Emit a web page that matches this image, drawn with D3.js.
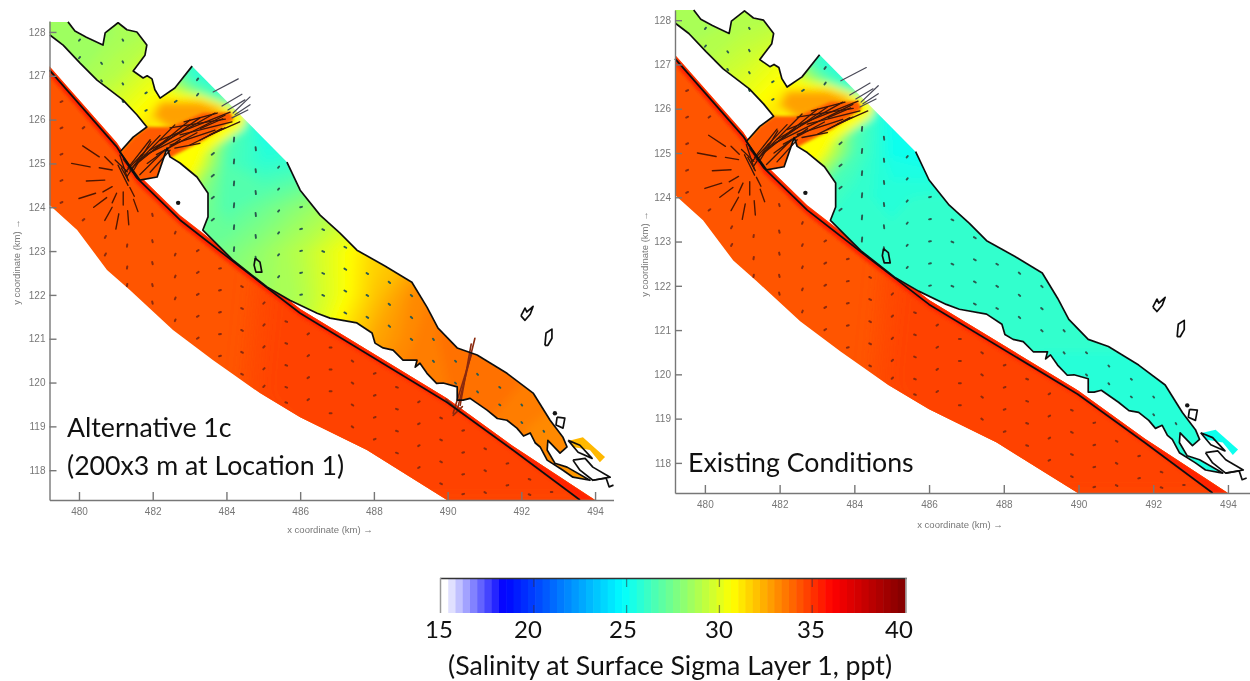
<!DOCTYPE html>
<html>
<head>
  <meta charset="utf-8">
  <title>Salinity at Surface Sigma Layer 1</title>
  <style>
    html, body { margin: 0; padding: 0; background: #fff; }
    svg { display: block; }
    .axis path, .axis line { stroke: #777; stroke-width: 1.4; }
    .axis text { font-family: "Liberation Sans", sans-serif; font-size: 10px; fill: #777; }
    .axis-label { font-family: "Liberation Sans", sans-serif; font-size: 9.5px; fill: #777; }
    .note { font-family: Lato, sans-serif; font-size: 26.7px; fill: #111; }
    .digit { font-family: Lato, sans-serif; font-size: 24px; fill: #111; }
    .coast { fill: none; stroke: #111; stroke-width: 1.7; stroke-linejoin: round; }
  </style>
</head>
<body>
<svg id="chart" width="1250" height="681"></svg>
<script src="https://d3js.org/d3.v7.min.js"></script>
<script>
// axis ticks, km
const xTicks = [480, 482, 484, 486, 488, 490, 492, 494];
const yTicks = [118, 119, 120, 121, 122, 123, 124, 125, 126, 127, 128];

// colour bar
const salinityStops = [15, 18.2, 24.6, 30.5, 35.9, 40];
const salinityColors = ["#ffffff", "#0000ff", "#00ffff", "#ffff00", "#ff0000", "#7a0000"];
const barTicks = [15, 20, 25, 30, 35, 40];

// ocean side, all [x km, y km]
const oceanUpperEdge = [[479.2,127.22],[481.03,125.47],[481.57,124.78],[482.74,123.82],[484.37,122.75],[486,121.68],[489.98,119.64],[491.77,118.55],[494,117.32]];
const oceanLowerEdge = [[479.2,124.05],[479.95,123.48],[480.76,122.57],[481.38,122.11],[482.55,121.2],[483.64,120.51],[484.91,119.76],[486,119.21],[487.81,118.46],[489.98,117.32]];
const barrierCoast = [[479.2,127.13],[481.03,125.37],[481.57,124.67],[482.74,123.71],[484.37,122.64],[486,121.58],[489.98,119.55],[491.77,118.46],[493.59,117.32]];
const redStripInner = [[479.2,127.0],[481.03,125.25],[481.57,124.55],[482.74,123.6],[484.37,122.52],[486,121.5],[489.98,119.5],[491.77,118.42],[493.59,117.32]];
const oceanEastPatch = [[485,123],[495,118],[495,117],[488,117],[484.6,119.5]];
const oceanSalinity = 34.1;
const oceanEastSalinity = 34.5;
const redStripSalinity = 35.2;

// bay shoreline
const upperArmCoast = [[479.7,128.23],[479.89,128.02],[480.2,127.88],[480.65,127.7],[480.71,127.98],[481.06,128.21],[481.3,128.05],[481.57,128],[481.84,127.7],[481.79,127.47],[481.47,127.11],[481.74,126.95],[481.85,127],[481.98,126.93],[482.06,126.68],[482.2,126.49],[482.6,126.72],[483.07,127.22]];
const mainBayCoast = [[485.64,125.03],[486,124.39],[486.54,123.82],[487.08,123.41],[487.54,123.02],[488.3,122.66],[489.03,122.29],[489.44,121.72],[489.74,121.24],[490.26,120.79],[490.8,120.63],[491.61,120.21],[492.32,119.76],[492.78,119.14],[493.13,118.75],[493.24,118.53],[493.05,118.39],[492.72,118.68],[492.7,118.46],[492.91,118.16],[493.24,118.07],[493.86,117.77],[493.4,117.84],[493.13,118],[492.7,118.23],[492.51,118.53],[492.38,118.62],[492.24,118.85],[492.06,118.78],[491.88,118.96],[491.61,119.14],[491.35,119.18],[491.07,119.37],[490.61,119.64],[490.42,119.6],[490.26,119.6],[490.26,119.9],[489.88,119.99],[489.7,119.98],[489.44,120.21],[489.25,120.44],[489.12,120.35],[489.17,120.51],[488.79,120.51],[488.52,120.74],[488.25,120.79],[488.03,120.9],[487.95,121.13],[487.54,121.36],[486.81,121.47],[486.46,121.58],[485.72,121.88],[485.1,122.18],[484.18,122.79],[483.36,123.48],[483.5,123.78],[483.5,124.32],[483.2,124.69],[482.74,125.01],[482.47,125.15],[482.39,125.35],[482.12,124.69],[481.65,124.62],[481.11,125.26],[481.47,125.6],[481.84,125.83],[481.57,126.11],[481.19,126.45],[480.49,126.9],[480.03,127.29],[479.57,127.7],[479.21,127.93]];

// islands and bits at the bay's far end
const outlineShapes = [
  [[491.99,121.52],[492.1,121.7],[492.15,121.61],[492.32,121.74],[492.24,121.56],[492.1,121.42],[491.99,121.52]],
  [[492.64,120.85],[492.67,121.13],[492.83,121.22],[492.83,121.01],[492.72,120.85],[492.64,120.85]],
  [[484.78,122.84],[484.91,122.75],[484.96,122.52],[484.8,122.52],[484.75,122.68],[484.78,122.84]],
  [[492.97,119.21],[493.18,119.19],[493.13,118.96],[492.94,119.03],[492.97,119.21]],
  [[493.27,118.68],[493.59,118.57],[493.92,118.27],[493.54,118.41],[493.27,118.68]],
  [[493.4,118.23],[493.73,118.27],[493.94,118.07],[494.41,117.84],[493.94,117.77],[493.59,118],[493.4,118.23]],
  [[493.94,117.77],[494.3,117.82],[494.38,117.62],[494.5,117.66]]
];
const islandDots = [[482.69,124.1],[492.91,119.3]];
const tipStrip = [[493.32,118.68],[493.67,118.75],[494.27,118.3],[494.13,118.18],[493.86,118.46],[493.4,118.53]];

// salinity at 1 km nodes, x 479..495 across, y 129..117 down
const gridCols = 17, gridRows = 13;
const bayGridLeft = [
  [28.5,28.5,28.5,28.5,28.5,25.5,25,25,25,25,25,25,25,25,25,25,25],
  [28.3,28.3,28.5,28.8,27,25,25,25,25,25,25,25,25,25,25,25,25],
  [28.4,28.5,29,30,26,25,25,25,25,25,25,25,25,25,25,25,25],
  [28.8,29.4,30.2,31.2,32,27.5,25,25,25.5,26,27,28,28,28,28,28,28],
  [30,31,32,33,31.5,26.5,25.8,26,26.5,27,28,29,29,29,29,29,29],
  [33,33,33,31,28,26.6,27.2,28,28.8,29.5,30,31,31,31,31,31,31],
  [27,27,27,27,27.2,27.5,28.2,29,30.2,31.5,32,33,33,33,33,33,33],
  [27,27,27,27,27.5,28,28.4,28.8,30.2,31.8,33,33.5,33.5,33.5,33.5,33.5,33.5],
  [27,27,27,27,27.5,28,28.5,29,31,32.5,33.2,33.6,33.6,33.6,33.6,33.6,33.6],
  [27,27,27,27,28,28.5,29,30,32,33,33.4,33.5,33.7,33.5,33.5,33.5,33.5],
  [28,28,28,28,28,29,30,31,33,33,33.4,33.5,33.5,33.3,33,33,33],
  [28,28,28,28,28,29,30,31,33,33,33.4,33.5,33.5,33.2,33,32.5,32],
  [28,28,28,28,28,29,30,31,33,33,33.4,33.5,33.5,33.2,33,32.5,32]
];
const bayGridRight = [
  [29,29,29,29,29,25.5,25,25,25,25,25,25,25,25,25,25,25],
  [28.6,28.6,28.8,29,27,25,25,25,25,25,25,25,25,25,25,25,25],
  [28.8,29,29.5,30.3,26,25,25,25,25,25,25,25,25,25,25,25,25],
  [29.2,29.8,30.4,31.2,32,27,25,25,25,25.2,25.2,25.2,25.2,25.2,25.2,25.2,25.2],
  [30,31,32,33,31,26.5,25.2,25,25.4,25.6,25.6,25.6,25.6,25.6,25.6,25.6,25.6],
  [33,33,33,30,26.5,25.8,25.7,25.8,25.8,25.8,25.8,25.8,25.8,25.8,25.8,25.8,25.8],
  [25.8,25.8,25.8,25.8,25.8,25.8,25.8,25.8,25.8,25.8,25.8,25.8,25.8,25.8,25.8,25.8,25.8],
  [25.8,25.8,25.8,25.8,25.8,25.8,25.8,25.8,25.8,25.8,25.8,25.8,25.8,25.8,25.8,25.8,25.8],
  [25.8,25.8,25.8,25.8,25.8,25.8,25.8,25.8,25.8,25.8,25.8,25.8,25.8,25.8,25.8,25.8,25.8],
  [25.8,25.8,25.8,25.8,25.8,25.8,25.8,25.8,25.8,25.8,25.7,25.7,25.7,25.7,25.7,25.7,25.7],
  [25.8,25.8,25.8,25.8,25.8,25.8,25.8,25.8,25.8,25.8,25.7,25.7,25.7,25.6,25.6,25.6,25.6],
  [25.8,25.8,25.8,25.8,25.8,25.8,25.8,25.8,25.8,25.8,25.7,25.7,25.7,25.5,25.5,25.2,25],
  [25.8,25.8,25.8,25.8,25.8,25.8,25.8,25.8,25.8,25.8,25.7,25.7,25.7,25.5,25.5,25.2,25]
];
const tipSalinityLeft = 32, tipSalinityRight = 25;

// plume through the cut
const plumeHalo = [[481.93,125.88],[482.33,126.63],[483.28,126.56],[484.58,126.17],[484.45,125.81],[483.42,125.26],[483.01,124.8],[482.52,124.96],[482.33,125.35]];
const plumeMid = [[481.98,126.05],[482.2,126.42],[483.28,126.42],[484,126.22],[483.4,125.95],[482.5,125.75]];
const plumeCore = [[481.11,125.26],[481.47,125.6],[481.84,125.83],[482.47,125.83],[483.36,126.15],[484.1,126.17],[484.2,126.0],[483.42,125.55],[482.52,125.15],[482.12,124.6],[481.65,124.5],[481.06,124.67]];
const plumeHaloSalinity = 30.5, plumeMidSalinity = 32.5, plumeCoreSalinity = 34;

// long velocity arrows [x, y, u, v] km
const plumeArrows = [[481.25,124.8,.95,.84],[481.38,124.85,1.22,1.03],[481.33,124.9,.6,.64],[481.52,124.96,1.49,1.03],[481.65,125.08,1.63,.96],[481.93,125.31,1.76,.84],[481.79,125.19,2.17,.91],[482.2,125.53,1.9,.64],[482.47,125.81,1.5,.2],[482.74,125.65,1.41,.3],[482.47,125.42,1.22,.34],[483.01,125.42,.95,.39],[481.65,124.74,.68,.57],[481.93,124.8,.54,.5],[481.06,124.96,.27,-.46],[481.11,125.19,.22,-.57],[480.98,125.08,.33,-.27],[483.28,125.53,.6,.27],[483.55,125.65,.81,.3],[482.6,125.35,.68,.11],[481.2,125.1,.35,-.4],[481.3,124.7,.4,.5],[481.45,124.8,.5,.7],[481.15,124.9,.2,-.3],[481.85,125.0,.9,.55],[482.1,125.2,1.1,.5],[482.85,125.95,.9,.2],[483.3,125.8,.6,.22]];
const tipArrows = [[483.64,126.63,.68,.3],[484.18,126.15,.46,.37],[484.23,126.11,.41,.23],[484.15,126.04,.43,.18],[484.04,126.22,.46,.23],[483.88,126.31,.54,.27]];
const inletArrows = [[479.8,125,.5,-.08],[480.1,125.4,.45,-.25],[480.2,124.6,.5,.02],[480,124.2,.45,.12],[480.4,124,.35,.22],[480.7,123.7,.2,.3],[481,123.5,.08,.35],[481.35,123.6,-.03,.32],[481.6,123.9,-.12,.28],[480.55,124.9,.35,-.05],[480.7,125.15,.22,-.18],[480.65,124.35,.25,.12],[480.9,124.1,.12,.22],[481.2,124.05,0,.3],[481.5,124.25,-.12,.2]];
const breachArrows = [[490.26,119.37,.48,1.64],[490.34,119.48,.3,1.4],[490.15,119.3,.5,1.35],[489.95,119.62,.4,-.3],[490.4,119.45,-.25,-.2]];

// short drift marks, columns of [x, u, v, [y...]]
const oceanCols = [
  [479.5,.1,.04,[126.4,125.8,125.2,124.6,124.1]],[480.1,.09,.06,[125.8,123.7]],[480.7,.06,.09,[123.3,122.9]],[481.3,.02,.1,[123.1,122.6,122.2]],
  [482,-.03,.1,[123.8,123.2,122.7,122.2,121.8]],[482.6,.04,.08,[123.4,122.9,122.4,121.9,121.4]],[483.2,.09,.05,[123,122.5,122,121.5,121]],
  [483.8,.1,.02,[122.6,122.1,121.6,121.1,120.6]],[484.4,.09,-.04,[122.2,121.7,121.2,120.7,120.2]],[485,.07,.06,[121.8,121.3,120.8,120.3,119.9]],
  [485.6,.09,-.03,[121.4,120.9,120.4,119.9,119.55]],[486.2,.08,.05,[121.1,120.6,120.1,119.6]],[486.8,.1,0,[120.8,120.3,119.8,119.3]],
  [487.4,.08,-.05,[120.5,120,119.5,119]],[488,.09,.03,[120.2,119.7,119.2,118.7]],[488.6,.1,-.03,[119.9,119.4,118.9,118.4]],
  [489.2,.08,.04,[119.55,119.05,118.55,118.05]],[489.8,.09,-.04,[119.2,118.7,118.2,117.7]],[490.4,.09,.02,[118.9,118.4,117.9,117.45]],
  [491,.08,-.04,[118.5,118,117.5]],[491.6,.09,.02,[118.15,117.65]],[492.2,.09,-.03,[117.8,117.45]],[492.8,.08,0,[117.5]]
];
const bayCols = [
  [480,.06,.06,[127.8,127.4]],[480.6,.05,-.06,[127.3,126.9]],[481.2,-.04,.06,[127.8,127.3,126.8,126.4]],[481.8,.08,.04,[126.6,126.2]],
  [482.6,.1,.06,[126.4]],[483.2,.07,.08,[126.9,126.55]],[483.6,.12,.08,[125.2,124.7,124.2,123.7]],
  [484.2,.02,.18,[125.5,125,124.5,124,123.5,123]],[484.8,-.02,.14,[125.3,124.8,124.3,123.8,123.3,122.8]],[485.4,.06,.06,[124.9,124.4,123.9,123.4,122.9,122.4]],
  [486,.1,.02,[124,123.5,123,122.5,122]],[486.6,.1,-.04,[123.5,123,122.5,122]],[487.2,.1,-.05,[123.1,122.6,122.1,121.6]],
  [487.8,.09,-.05,[122.5,122,121.5]],[488.4,.08,-.06,[122.3,121.8,121.3]],[489,.08,-.06,[122,121.5,121]],[489.6,.06,-.06,[121,120.5]],
  [490.2,.06,-.05,[120.5,120]],[490.8,.05,-.05,[120.2,119.8]],[491.4,.06,-.04,[119.9,119.5]],[492,.05,-.05,[119.5,119.1]],[492.6,.04,-.05,[118.9]]
];
const driftScale = 0.5;

const svg = d3.select("#chart");
const salinity = d3.scaleLinear().domain(salinityStops).range(salinityColors);

const defs = svg.append("defs");
[["soft", 0.7], ["stripBlur", 1.4], ["patchBlur", 14], ["fieldBlur", 4], ["coreBlur", 1.8]].forEach(([id, sd]) => {
  defs.append("filter").attr("id", id)
    .attr("x", "-20%").attr("y", "-20%").attr("width", "140%").attr("height", "140%")
    .append("feGaussianBlur").attr("stdDeviation", sd);
});

function drawPanel(name, x, y, bayGrid, tipSalinity, withBreach, xLabelPos, yLabelPos, axisY) {
  const line = d3.line().x(d => x(d[0])).y(d => y(d[1]));
  const closed = d3.line().x(d => x(d[0])).y(d => y(d[1])).curve(d3.curveLinearClosed);
  const g = svg.append("g").attr("filter", "url(#soft)");

  const oceanShape = oceanUpperEdge.concat(oceanLowerEdge.slice().reverse());
  const bayShape = [[479.2, 128.23]].concat(upperArmCoast, mainBayCoast);

  defs.append("clipPath").attr("id", name + "Ocean").append("path").attr("d", closed(oceanShape));
  defs.append("clipPath").attr("id", name + "Bay").append("path").attr("d", closed(bayShape));

  // ocean
  const ocean = g.append("g").attr("clip-path", `url(#${name}Ocean)`);
  ocean.append("path").attr("d", closed([[479, 128], [495, 119], [495, 117], [489, 117], [479, 123]]))
    .attr("fill", salinity(oceanSalinity));
  ocean.append("path").attr("d", closed(oceanEastPatch)).attr("fill", salinity(oceanEastSalinity))
    .attr("filter", "url(#patchBlur)");
  ocean.append("path").attr("d", closed(oceanUpperEdge.concat(redStripInner.slice().reverse())))
    .attr("fill", salinity(redStripSalinity)).attr("filter", "url(#stripBlur)");

  // bay salinity from the node values
  const bay = g.append("g").attr("clip-path", `url(#${name}Bay)`);
  const field = bay.append("g").attr("filter", "url(#fieldBlur)");
  const toKm = d3.geoTransform({
    point(gx, gy) { this.stream.point(x(479 + gx - 0.5), y(129 - gy + 0.5)); }
  });
  const contours = d3.contours().size([gridCols, gridRows])
    .thresholds(d3.range(15, 40, 0.25))(bayGrid.flat());
  field.selectAll("path.band").data(contours).join("path")
    .attr("class", "band")
    .attr("d", d3.geoPath(toKm))
    .attr("fill", d => salinity(d.value));
  field.append("path").attr("d", closed(plumeHalo)).attr("fill", salinity(plumeHaloSalinity));
  field.append("path").attr("d", closed(plumeMid)).attr("fill", salinity(plumeMidSalinity));
  bay.append("path").attr("d", closed(plumeCore)).attr("fill", salinity(plumeCoreSalinity))
    .attr("filter", "url(#coreBlur)");

  g.append("path").attr("d", closed(tipStrip)).attr("fill", salinity(tipSalinity));

  // drift marks
  const marks = (cols) => cols.flatMap(([cx, u, v, ys]) => ys.map(cy => [cx, cy, u * driftScale, v * driftScale]));
  const quiver = (data, color, width) => {
    g.append("g").selectAll("line").data(data).join("line")
      .attr("x1", d => x(d[0])).attr("y1", d => y(d[1]))
      .attr("x2", d => x(d[0] + d[2])).attr("y2", d => y(d[1] + d[3]))
      .attr("stroke", color).attr("stroke-width", width).attr("stroke-linecap", "round");
  };
  quiver(marks(oceanCols), "#8a2a0c", 2);
  quiver(marks(bayCols), "#2a5a50", 1.9);
  quiver(inletArrows, "#501806", 1.4);
  quiver(plumeArrows, "#3a1608", 1.3);
  quiver(tipArrows, "#4a4a58", 1.2);
  if (withBreach) quiver(breachArrows, "#8a2a10", 1.6);

  // shoreline
  g.append("path").attr("class", "coast").attr("d", line(barrierCoast)).style("stroke-width", 1.8);
  g.append("path").attr("class", "coast").attr("d", line(upperArmCoast));
  g.append("path").attr("class", "coast").attr("d", line(mainBayCoast));
  g.selectAll("path.shape").data(outlineShapes).join("path")
    .attr("class", "coast shape").attr("d", line);
  g.selectAll("circle").data(islandDots).join("circle")
    .attr("cx", d => x(d[0])).attr("cy", d => y(d[1])).attr("r", 2.2).attr("fill", "#151515");

  // axes
  const ax = svg.append("g").attr("filter", "url(#soft)");
  ax.append("g").attr("class", "axis").attr("transform", `translate(0,${axisY})`)
    .call(d3.axisBottom(x).tickValues(xTicks).tickSize(-8).tickSizeOuter(0).tickPadding(6))
    .selectAll("text").attr("dy", "0.9em");
  ax.append("g").attr("class", "axis").attr("transform", `translate(${x.range()[0]},0)`)
    .call(d3.axisLeft(y).tickValues(yTicks).tickSize(-7).tickSizeOuter(0).tickPadding(4));
  ax.append("text").attr("class", "axis-label").attr("text-anchor", "middle")
    .attr("x", xLabelPos[0]).attr("y", xLabelPos[1]).text("x coordinate (km) \u2192");
  ax.append("text").attr("class", "axis-label").attr("text-anchor", "middle")
    .attr("transform", `translate(${yLabelPos[0]},${yLabelPos[1]}) rotate(-90)`)
    .text("y coordinate (km) \u2192");
}

drawPanel("left",
  d3.scaleLinear().domain([479.2, 494.5]).range([49.5, 613.5]),
  d3.scaleLinear().domain([117.32, 128.25]).range([500, 21]),
  bayGridLeft, tipSalinityLeft, true, [330, 533], [20, 262], 500);

drawPanel("right",
  d3.scaleLinear().domain([479.2, 494.59]).range([675, 1250]),
  d3.scaleLinear().domain([117.32, 128.23]).range([493, 10]),
  bayGridRight, tipSalinityRight, false, [960, 528], [648, 254], 493);

// panel notes
svg.append("text").attr("class", "note").attr("x", 67).attr("y", 437).text("Alternative 1c");
svg.append("text").attr("class", "note").attr("x", 67).attr("y", 475).text("(200x3 m at Location 1)");
svg.append("text").attr("class", "note").attr("x", 688).attr("y", 472).text("Existing Conditions");

// colour bar
const barX = d3.scaleLinear().domain([15, 40]).range([441, 905]);
const barLabelX = d3.scaleLinear().domain(barTicks).range([439, 528, 623, 719, 811, 899]);
const barSteps = d3.range(15, 40, 25 / 64);
svg.append("g").selectAll("rect").data(barSteps).join("rect")
  .attr("x", d => barX(d)).attr("y", 578)
  .attr("width", barX(15 + 25 / 64) - barX(15) + 0.6).attr("height", 35)
  .attr("fill", d => salinity(d));
svg.append("line").attr("x1", 440).attr("x2", 907).attr("y1", 578.5).attr("y2", 578.5)
  .attr("stroke", "#333").attr("stroke-width", 1.4);
svg.append("g").selectAll("line.edge").data([440.5, 906]).join("line")
  .attr("class", "edge").attr("x1", d => d).attr("x2", d => d).attr("y1", 578).attr("y2", 613)
  .attr("stroke", "#999").attr("stroke-width", 1.5);
svg.append("g").selectAll("path").data(barTicks.slice(1, 5)).join("path")
  .attr("d", d => `M${barX(d)},579V587M${barX(d)},605V613`)
  .attr("stroke", "#334").attr("stroke-opacity", 0.55).attr("stroke-width", 1.3);
svg.append("g").selectAll("text").data(barTicks).join("text")
  .attr("class", "digit").attr("text-anchor", "middle")
  .attr("x", d => barLabelX(d)).attr("y", 638).text(d => d);
svg.append("text").attr("class", "note").attr("x", 448).attr("y", 675)
  .text("(Salinity at Surface Sigma Layer 1, ppt)");
</script>
</body>
</html>
